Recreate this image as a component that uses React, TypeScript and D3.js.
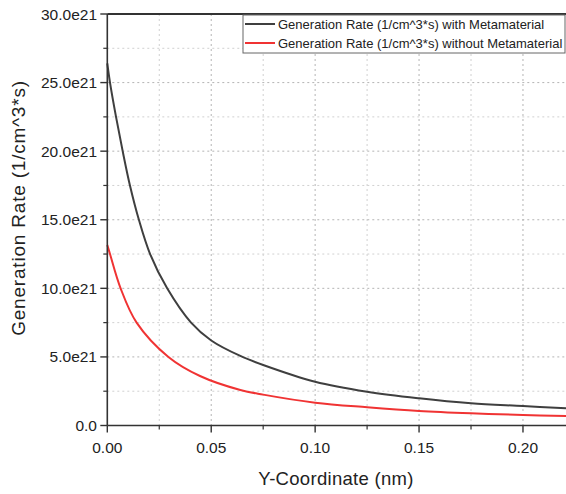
import React from "react";
import * as d3 from "d3";

const withX = [0, 0.0013, 0.0042, 0.0074, 0.0109, 0.0152, 0.0206, 0.0288, 0.0403, 0.05, 0.064, 0.075, 0.1, 0.125, 0.15, 0.175, 0.2, 0.2207];
const withY = [26.4, 25.0, 22.5, 20.0, 17.5, 15.0, 12.5, 10.0, 7.5, 6.2, 5.07, 4.41, 3.19, 2.46, 1.98, 1.62, 1.42, 1.25];
const withoutX = [0, 0.0013, 0.0064, 0.0141, 0.0294, 0.0446, 0.064, 0.075, 0.1, 0.125, 0.15, 0.175, 0.2, 0.2207];
const withoutY = [13.16, 12.5, 10.0, 7.5, 5.0, 3.61, 2.59, 2.25, 1.66, 1.33, 1.06, 0.89, 0.77, 0.69];

const xTicks = [0, 0.05, 0.1, 0.15, 0.2];
const xMinor = [0.025, 0.075, 0.125, 0.175];
const yTicks = [0, 5, 10, 15, 20, 25, 30];
const yMinor = [2.5, 7.5, 12.5, 17.5, 22.5, 27.5];
const seriesNames = [
  "Generation Rate (1/cm^3*s) with Metamaterial",
  "Generation Rate (1/cm^3*s) without Metamaterial",
];
const seriesColors = ["#3f3f3f", "#f03333"];

const FONT = "'Liberation Sans', Arial, sans-serif";

export default function App() {
  const W = 566, H = 494;
  const L = 107.3, R = 566, T = 14, B = 425.5;
  const x = d3.scaleLinear().domain([0, 0.2207]).range([L, R]);
  const y = d3.scaleLinear().domain([0, 30]).range([B, T]);
  const line = d3.line<[number, number]>().x(d => x(d[0])).y(d => y(d[1])).curve(d3.curveCatmullRom.alpha(0.5));
  const d1 = line(withX.map((v, i) => [v, withY[i]]))!;
  const d2 = line(withoutX.map((v, i) => [v, withoutY[i]]))!;
  const yFmt = (v: number) => (v === 0 ? "0.0" : v.toFixed(1) + "e21");

  return (
    <svg width={W} height={H} style={{ position: "absolute", left: 0, top: 0, background: "#fff" }} fontFamily={FONT}>
      <rect width={W} height={H} fill="#fff" />
      {/* grid */}
      {xMinor.map(t => (
        <line key={"gxm" + t} x1={x(t)} x2={x(t)} y1={T} y2={B} stroke="#d0d0d0" strokeDasharray="2,3" />
      ))}
      {xTicks.slice(1).map(t => (
        <line key={"gx" + t} x1={x(t)} x2={x(t)} y1={T} y2={B} stroke="#b4b4b4" strokeDasharray="2,3" />
      ))}
      {yMinor.map(t => (
        <line key={"gym" + t} x1={L} x2={R} y1={y(t)} y2={y(t)} stroke="#d0d0d0" strokeDasharray="2,3" />
      ))}
      {yTicks.slice(1, -1).map(t => (
        <line key={"gy" + t} x1={L} x2={R} y1={y(t)} y2={y(t)} stroke="#b4b4b4" strokeDasharray="2,3" />
      ))}
      {/* curves */}
      <path d={d1} fill="none" stroke={seriesColors[0]} strokeWidth={2} />
      <path d={d2} fill="none" stroke={seriesColors[1]} strokeWidth={2} />
      {/* axes */}
      <line x1={L} x2={R} y1={B} y2={B} stroke="#333" strokeWidth={1.6} />
      <line x1={L} x2={L} y1={T} y2={B} stroke="#333" strokeWidth={1.6} />
      <line x1={L} x2={R} y1={T} y2={T} stroke="#333" strokeWidth={2} />
      {xTicks.map(t => (
        <g key={"xt" + t}>
          <line x1={x(t)} x2={x(t)} y1={B} y2={B + 7} stroke="#333" strokeWidth={1.4} />
          <text x={x(t)} y={453} textAnchor="middle" fontSize={15.5} fill="#222">{t.toFixed(2)}</text>
        </g>
      ))}
      {xMinor.map(t => (
        <line key={"xm" + t} x1={x(t)} x2={x(t)} y1={B} y2={B + 4} stroke="#333" strokeWidth={1.2} />
      ))}
      {yTicks.map(t => (
        <g key={"yt" + t}>
          <line x1={L - 7} x2={L} y1={y(t)} y2={y(t)} stroke="#333" strokeWidth={1.4} />
          <text x={97} y={y(t) + 5.5} textAnchor="end" fontSize={15.5} fill="#222">{yFmt(t)}</text>
        </g>
      ))}
      {yMinor.map(t => (
        <line key={"ym" + t} x1={L - 4} x2={L} y1={y(t)} y2={y(t)} stroke="#333" strokeWidth={1.2} />
      ))}
      {/* axis titles */}
      <text x={336} y={485} textAnchor="middle" fontSize={18.5} letterSpacing={0.3} fill="#222">Y-Coordinate (nm)</text>
      <text transform="translate(25,208) rotate(-90)" textAnchor="middle" fontSize={19} letterSpacing={0.8} fill="#222">Generation Rate (1/cm^3*s)</text>
      {/* legend */}
      <rect x={243} y={15} width={322} height={38} fill="#fff" stroke="#666" strokeWidth={1} />
      {seriesNames.map((n, i) => (
        <g key={n}>
          <line x1={245} x2={275} y1={24 + i * 19} y2={24 + i * 19} stroke={seriesColors[i]} strokeWidth={2} />
          <text x={278} y={28.5 + i * 19} fontSize={13} fill="#222">{n}</text>
        </g>
      ))}
    </svg>
  );
}
